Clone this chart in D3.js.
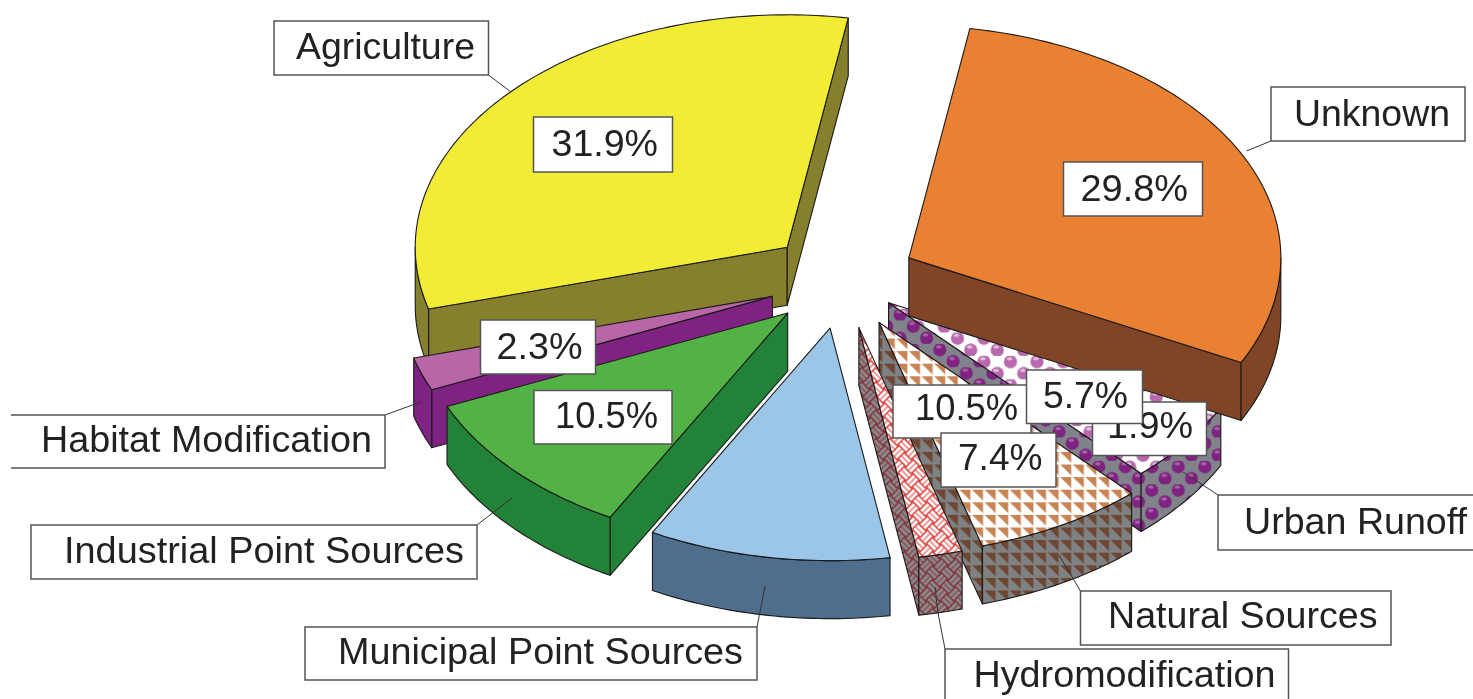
<!DOCTYPE html>
<html>
<head>
<meta charset="utf-8">
<script src="https://cdn.jsdelivr.net/npm/d3@7/dist/d3.min.js"></script>
<style>
    body { margin: 0; background: #fff; }
    svg { display: block; }
    text { font-family: "Liberation Sans", Arial, sans-serif; font-size: 36px; fill: #222; }
</style>
</head>
<body>
<div id="chart-area"></div>
<script>
// data, clockwise starting from Agriculture
var categories = ["Agriculture", "Unknown", "Urban Runoff", "Natural Sources", "Hydromodification",
    "Municipal Point Sources", "Industrial Point Sources", "Habitat Modification"];
var shares = [31.9, 29.8, 5.7, 7.4, 1.9, 10.5, 10.5, 2.3];

// colours, same order as categories
var topFills = ["#f2ec36", "#e98031", "url(#balls-top)", "url(#tri-top)", "url(#weave-top)", "#9bc6e8", "#52b244", "#b866a8"];
var wallFills = ["#857f2e", "#7f4526", "url(#balls-wall)", "url(#tri-wall)", "url(#weave-wall)", "#4f6d8c", "#228237", "#7f2382"];

// how far each slice is pulled out, as a fraction of the radius
var explodes = [0.2, 0.2, 0.155, 0.2, 0.2, 0.2, 0.2, 0.2];

// painter's order (index into categories)
var drawOrder = [2, 1, 0, 7, 6, 5, 3, 4];

// name labels: box x0,y0,x1,y1, text x0,x1,baseline
var nameBoxes = [
    [274, 21, 488.5, 75, 296, 475, 59],
    [1271, 87, 1465, 141, 1294, 1450, 126],
    [1218, 495, 1490, 550, 1244, 1467, 534],
    [1080.5, 591, 1391, 645, 1108, 1377.5, 628],
    [945, 649, 1288.5, 720, 973.5, 1275.5, 687],
    [305, 627, 757, 680, 338, 743, 664],
    [31, 525, 477, 579, 64, 464, 563],
    [11, 415, 385, 468, 41, 372, 452]
];
// only the Habitat box has no left edge
var openLeft = [false, false, false, false, false, false, false, true];

// leader lines
var leaders = [
    [[488.5, 75], [511, 92]],
    [[1271, 141], [1246.5, 151]],
    [[1218, 495], [1183, 472]],
    [[1080.5, 591], [1059, 555]],
    [[945, 649], [938, 613], [935, 587]],
    [[757, 627], [765, 586]],
    [[477, 525], [512, 498]],
    [[385, 415], [422, 401.5]]
];

// percent labels, drawn in this order
var pctBoxes = [
    [0, 533.5, 117, 672.5, 172, 551.5, 658, 156],
    [1, 1063.5, 162, 1202.5, 216, 1080.5, 1188, 200.5],
    [7, 480.5, 320, 595.5, 374, 496.5, 582.5, 359],
    [6, 534, 390.5, 672, 444, 555, 658, 428],
    [4, 1092.5, 402, 1206.5, 455.5, 1107, 1193, 438],
    [5, 893, 385, 1031, 438, 915, 1018, 420],
    [3, 941, 433, 1056, 487, 958, 1042.5, 470],
    [2, 1026.5, 370, 1142.5, 423.5, 1043, 1128, 408]
];

// pie geometry
var cx = 842.5, cy = 280,
    rx = 372, ry = 232.5,
    depth = 58,
    rad = Math.PI / 180;

var svg = d3.select("#chart-area").append("svg")
    .attr("width", 1473)
    .attr("height", 699);

// scales from the unit circle to the tilted pie
var x = d3.scaleLinear().domain([-1, 1]).range([cx - rx, cx + rx]);
var y = d3.scaleLinear().domain([-1, 1]).range([cy - ry, cy + ry]);

var defs = svg.append("defs");

defs.append("filter").attr("id", "soft")
    .attr("x", 0).attr("y", 0).attr("width", 1).attr("height", 1)
    .append("feGaussianBlur").attr("stdDeviation", 0.45);

// ball pattern
function ballPattern(id, bg, ball, shine, px, py) {
    var p = defs.append("pattern").attr("id", id)
        .attr("patternUnits", "userSpaceOnUse")
        .attr("width", 26.5).attr("height", 23.4)
        .attr("patternTransform", "translate(" + px + "," + py + ")");
    p.append("rect").attr("width", 26.5).attr("height", 23.4).attr("fill", bg);
    [[6.6, 5.85], [19.85, 17.55]].forEach(function(c) {
        p.append("circle").attr("cx", c[0]).attr("cy", c[1]).attr("r", 6.6).attr("fill", ball);
        p.append("ellipse").attr("cx", c[0] - 1).attr("cy", c[1] - 3).attr("rx", 2.8).attr("ry", 1.6).attr("fill", shine);
    });
}
ballPattern("balls-top", "#fff", "#b868ac", "#e4c4df", 977.4, 332.5);
ballPattern("balls-wall", "#80848a", "#7f2382", "#a868a8", 1171.7, 460.9);

// triangle pattern
function triPattern(id, bg, tri) {
    var p = defs.append("pattern").attr("id", id)
        .attr("patternUnits", "userSpaceOnUse")
        .attr("width", 12.6).attr("height", 12.6)
        .attr("patternTransform", "translate(1035,502.3)");
    p.append("rect").attr("width", 12.6).attr("height", 12.6).attr("fill", bg);
    p.append("path").attr("d", "M0,0L11,0L11,11Z").attr("fill", tri);
}
triPattern("tri-top", "#fff", "#c98455");
triPattern("tri-wall", "#7f8285", "#6e4630");

// basket weave pattern, a checkerboard turned 45 degrees
function weavePattern(id, bg, strand) {
    var p = defs.append("pattern").attr("id", id)
        .attr("patternUnits", "userSpaceOnUse")
        .attr("width", 20).attr("height", 20)
        .attr("patternTransform", "rotate(45)");
    p.append("rect").attr("width", 20).attr("height", 20).attr("fill", bg);
    [[0, 0], [10, 10]].forEach(function(t) {
        p.append("rect").attr("x", t[0]).attr("y", t[1] + 1.5).attr("width", 10).attr("height", 3).attr("fill", strand);
        p.append("rect").attr("x", t[0]).attr("y", t[1] + 5.5).attr("width", 10).attr("height", 3).attr("fill", strand);
    });
    [[10, 0], [0, 10]].forEach(function(t) {
        p.append("rect").attr("x", t[0] + 1.5).attr("y", t[1]).attr("width", 3).attr("height", 10).attr("fill", strand);
        p.append("rect").attr("x", t[0] + 5.5).attr("y", t[1]).attr("width", 3).attr("height", 10).attr("fill", strand);
    });
}
weavePattern("weave-top", "#d93c36", "#fff");
weavePattern("weave-wall", "#82303a", "#8c8c8c");

var pie = d3.pie()
    .sort(null)
    .startAngle(254.6 * rad)
    .endAngle((254.6 + 360) * rad);

var slices = pie(shares);
var line = d3.line();

// point on the pie: angle, radius fraction, shift from the explode, drop down the wall
function pt(a, r, o, drop) {
    return [x(o[0] + r * Math.sin(a)), y(o[1] - r * Math.cos(a)) + (drop || 0)];
}

// samples along the rim
function rim(a0, a1, o, drop) {
    var n = Math.max(2, Math.ceil((a1 - a0) / (1 * rad)));
    return d3.range(n + 1).map(function(i) {
        return pt(a0 + (a1 - a0) * i / n, 1, o, drop);
    });
}

var plot = svg.append("g").attr("filter", "url(#soft)");

function face(points, fill) {
    plot.append("path")
        .attr("d", line(points) + "Z")
        .attr("fill", fill)
        .attr("stroke", "#1a1a1a")
        .attr("stroke-width", 1.1)
        .attr("stroke-linejoin", "round");
}

function cutWall(a, o, fill) {
    var c = pt(0, 0, o), e = pt(a, 1, o);
    face([c, e, [e[0], e[1] + depth], [c[0], c[1] + depth]], fill);
}

drawOrder.forEach(function(i) {
    var d = slices[i],
        mid = (d.startAngle + d.endAngle) / 2,
        o = [explodes[i] * Math.sin(mid), -explodes[i] * 1.05 * Math.cos(mid)];

    // cut faces that turn towards the viewer
    if (Math.sin(d.startAngle) < 0) cutWall(d.startAngle, o, wallFills[i]);
    if (Math.sin(d.endAngle) > 0) cutWall(d.endAngle, o, wallFills[i]);

    // outer wall, only on the front half of the rim (angles run past 360 here)
    [90, 450].forEach(function(front) {
        var a0 = Math.max(d.startAngle, front * rad),
            a1 = Math.min(d.endAngle, (front + 180) * rad);
        if (a1 > a0) {
            face(rim(a0, a1, o, 0).concat(rim(a0, a1, o, depth).reverse()), wallFills[i]);
        }
    });

    // top
    face([pt(0, 0, o)].concat(rim(d.startAngle, d.endAngle, o, 0)), topFills[i]);
});

// leader lines
leaders.forEach(function(l) {
    plot.append("path")
        .attr("d", line(l))
        .attr("fill", "none")
        .attr("stroke", "#333")
        .attr("stroke-width", 1);
});

function labelBox(b, open) {
    plot.append("rect")
        .attr("x", b[0]).attr("y", b[1])
        .attr("width", b[2] - b[0]).attr("height", b[3] - b[1])
        .attr("fill", "#fff");
    var pts = [[b[0], b[1]], [b[2], b[1]], [b[2], b[3]], [b[0], b[3]]];
    plot.append("path")
        .attr("d", line(pts) + (open ? "" : "Z"))
        .attr("fill", "none")
        .attr("stroke", "#555")
        .attr("stroke-width", 1.5);
}

function labelText(txt, x0, x1, base) {
    plot.append("text")
        .attr("x", x0).attr("y", base)
        .attr("textLength", x1 - x0)
        .attr("lengthAdjust", "spacingAndGlyphs")
        .text(txt);
}

// name labels
categories.forEach(function(c, i) {
    var b = nameBoxes[i];
    labelBox(b, openLeft[i]);
    labelText(c, b[4], b[5], b[6]);
});

// percent labels
pctBoxes.forEach(function(p) {
    labelBox(p.slice(1, 5), false);
    labelText(shares[p[0]].toFixed(1) + "%", p[5], p[6], p[7]);
});
</script>
</body>
</html>
